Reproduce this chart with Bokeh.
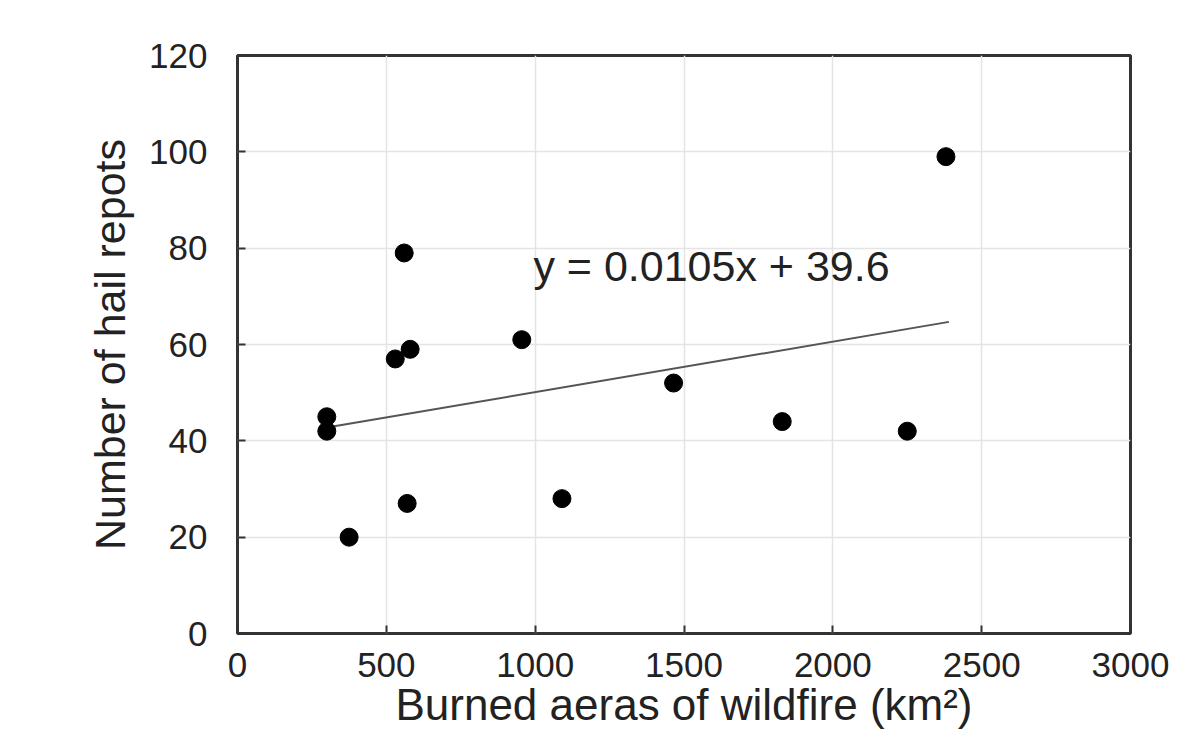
from bokeh.plotting import figure
from bokeh.models import Range1d, FixedTicker, Label
from bokeh.embed import file_html
from bokeh.resources import INLINE

burned_area = [2380, 560, 530, 580, 955, 1465, 1830, 2250, 300, 300, 375, 570, 1090]
hail_reports = [99, 79, 57, 59, 61, 52, 44, 42, 45, 42, 20, 27, 28]

slope = 0.0105
intercept = 39.6
fit_x = [300, 2390]
fit_y = [slope * v + intercept for v in fit_x]

x_ticks = [0, 500, 1000, 1500, 2000, 2500, 3000]
y_ticks = [0, 20, 40, 60, 80, 100, 120]

x_title = "Burned aeras of wildfire (km²)"
y_title = "Number of hail repots"

FONT = "Liberation Sans"
TXT = "#222222"

p = figure(width=1178, height=731, output_backend="svg", toolbar_location=None,
           x_range=Range1d(0, 3000), y_range=Range1d(0, 120),
           min_border_left=237, min_border_right=48, min_border_top=55, min_border_bottom=97)

p.outline_line_color = "#333333"
p.outline_line_width = 3
p.outline_line_alpha = 1

p.xgrid.grid_line_color = "#e4e4e4"
p.ygrid.grid_line_color = "#e4e4e4"
p.xgrid.grid_line_width = 1.5
p.ygrid.grid_line_width = 1.5

p.xaxis.ticker = FixedTicker(ticks=x_ticks)
p.yaxis.ticker = FixedTicker(ticks=y_ticks)

for ax in (p.xaxis[0], p.yaxis[0]):
    ax.axis_line_color = None
    ax.major_tick_in = 8
    ax.major_tick_out = 0
    ax.major_tick_line_color = "#333333"
    ax.major_tick_line_width = 2
    ax.minor_tick_line_color = None
    ax.major_label_text_font = FONT
    ax.major_label_text_font_size = "35px"
    ax.major_label_text_color = TXT
    ax.axis_label_text_font = FONT
    ax.axis_label_text_font_size = "43px"
    ax.axis_label_text_font_style = "normal"
    ax.axis_label_text_color = TXT

p.xaxis.major_label_standoff = 19
p.yaxis.major_label_standoff = 30
p.xaxis.axis_label = x_title
p.xaxis.axis_label_standoff = 0
p.xaxis.axis_label_text_font_size = "44px"
p.yaxis.axis_label = y_title
p.yaxis.axis_label_standoff = 12

p.line(fit_x, fit_y, line_color="#555555", line_width=2)
p.scatter(burned_area, hail_reports, size=18, color="black")

p.add_layout(Label(x=994, y=71.3, text="y = 0.0105x + 39.6", text_font=FONT,
                   text_font_size="43px", text_color=TXT))

open("out.html", "w").write(file_html(p, INLINE))
